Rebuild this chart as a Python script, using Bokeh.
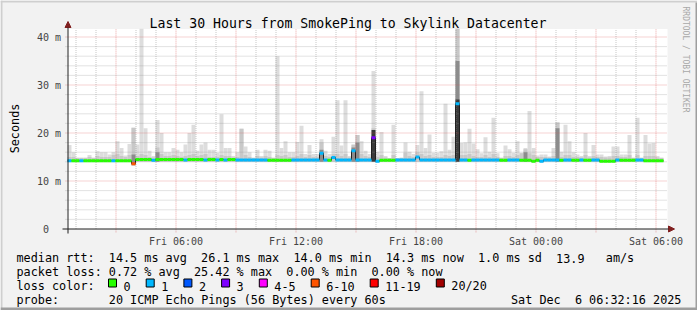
import datetime as dt
import math
from bokeh.plotting import figure
from bokeh.models import Label, BoxAnnotation, Arrow, NormalHead, Range1d
from bokeh.embed import file_html
from bokeh.resources import INLINE

# ---------------- data ----------------
title_text = "Last 30 Hours from SmokePing to Skylink Datacenter"
t_start = dt.datetime(2025, 12, 5, 0, 34, 30)
t_end = dt.datetime(2025, 12, 6, 6, 34, 30)
bin_minutes = 12

# max ping per 12-minute bin (ms)
rtt_max = [
    17.5, 16.0, 14.9, 14.9, 14.9, 15.4, 14.9, 16.2, 16.0, 16.0, 15.5, 16.0, 18.3, 16.9, 15.3, 17.7, 21.1, 17.6, 41.7, 21.0, 16.3, 15.2, 22.7, 20.0, 16.0,
    16.0, 16.9, 16.5, 16.0, 17.6, 20.0, 21.7, 16.3, 17.6, 18.0, 16.5, 16.5, 15.9, 23.9, 16.9, 16.9, 15.2, 16.0, 20.9, 17.2, 16.0, 14.9, 16.5, 15.2, 16.5,
    16.3, 14.9, 36.0, 16.9, 18.3, 16.0, 16.0, 18.1, 21.5, 15.6, 17.5, 15.6, 15.6, 18.7, 16.3, 15.6, 19.2, 26.8, 17.4, 26.8, 15.2, 17.5, 19.6, 18.3, 16.3,
    15.6, 32.9, 16.1, 20.2, 15.2, 14.8, 21.7, 14.8, 14.9, 18.0, 16.1, 15.6, 17.5, 28.7, 16.9, 19.7, 15.9, 15.9, 16.2, 26.1, 16.5, 19.2, 41.7, 17.9, 18.0,
    20.9, 17.8, 16.6, 15.8, 19.1, 16.1, 23.2, 15.8, 14.9, 17.4, 16.6, 15.9, 18.3, 15.9, 16.9, 24.6, 16.9, 15.3, 15.5, 15.5, 15.1, 16.9, 22.2, 16.1, 21.7,
    18.3, 16.0, 15.5, 15.2, 20.0, 15.2, 17.5, 15.5, 15.5, 15.1, 15.2, 17.2, 17.2, 15.5, 15.5, 19.6, 14.9, 23.2, 14.9, 19.6, 17.8, 17.9, 15.2, 14.9,
]
# min ping per bin (ms)
rtt_min = [
    14.0, 14.0, 14.0, 14.0, 14.0, 14.0, 14.0, 14.0, 14.0, 14.0, 14.0, 14.0, 14.0, 14.0, 14.0, 14.0, 13.3, 14.0, 14.0, 14.0, 14.0, 14.0, 14.0, 14.0, 14.0,
    14.0, 14.0, 14.0, 14.0, 14.0, 14.0, 14.0, 14.0, 14.0, 14.0, 14.0, 14.0, 14.0, 14.0, 14.0, 14.0, 14.0, 14.0, 14.0, 14.0, 14.0, 14.0, 14.0, 14.0, 14.0,
    14.0, 14.0, 14.0, 14.0, 14.0, 14.0, 14.0, 14.0, 14.0, 14.0, 14.0, 14.0, 14.0, 14.0, 14.0, 14.0, 14.0, 14.0, 14.0, 14.0, 14.0, 14.0, 14.0, 14.0, 14.0,
    14.0, 14.0, 13.9, 14.0, 14.0, 14.0, 14.0, 14.0, 14.0, 14.0, 14.0, 14.0, 14.0, 14.0, 14.0, 14.0, 14.0, 14.0, 14.0, 14.0, 14.0, 14.0, 14.0, 14.0, 14.0,
    14.0, 14.0, 14.0, 14.0, 14.0, 14.0, 14.0, 14.0, 14.0, 14.0, 14.0, 14.0, 14.0, 14.0, 14.0, 14.0, 13.9, 14.0, 13.9, 14.0, 14.0, 14.0, 14.0, 14.0, 14.0,
    14.0, 14.0, 14.0, 14.0, 14.0, 14.0, 14.0, 14.0, 13.9, 13.9, 13.9, 13.9, 14.0, 14.0, 14.0, 14.0, 14.0, 14.0, 14.0, 14.0, 14.0, 14.0, 14.0, 14.0,
]
# upper edge of the denser smoke near the median (ms)
rtt_dense = [
    15.0, 15.0, 14.8, 14.8, 14.8, 15.0, 14.8, 15.2, 15.0, 15.0, 15.0, 15.4, 15.6, 15.2, 15.0, 15.4, 21.1, 15.2, 15.6, 15.4, 15.0, 14.9, 17.0, 15.6, 15.2,
    15.2, 15.4, 15.2, 15.0, 15.2, 15.4, 15.6, 15.2, 15.4, 15.6, 15.0, 15.0, 15.0, 15.4, 15.2, 15.2, 14.9, 15.0, 20.9, 15.4, 15.0, 14.8, 15.2, 14.9, 15.2,
    15.0, 14.8, 15.4, 15.2, 15.4, 15.0, 15.0, 15.2, 15.6, 15.0, 15.4, 15.0, 15.0, 18.0, 15.2, 15.0, 15.6, 15.6, 15.2, 15.6, 14.9, 17.6, 19.6, 15.6, 15.2,
    15.0, 21.0, 15.0, 15.4, 14.9, 14.8, 15.4, 14.8, 14.8, 15.9, 15.2, 15.0, 16.0, 15.6, 15.2, 15.4, 15.0, 15.0, 15.0, 15.4, 15.2, 15.4, 41.7, 15.4, 15.4,
    15.6, 15.2, 15.0, 15.0, 15.4, 15.0, 15.6, 15.0, 14.8, 15.2, 15.2, 15.0, 15.4, 15.8, 16.6, 15.8, 15.4, 15.0, 15.0, 15.0, 14.9, 15.2, 22.2, 15.0, 15.4,
    15.4, 15.0, 15.0, 14.9, 15.4, 14.9, 15.2, 15.0, 15.0, 14.9, 14.9, 15.2, 15.2, 15.0, 15.0, 15.4, 14.8, 15.4, 14.8, 15.2, 15.2, 15.2, 14.9, 14.8,
]
# bins with a dark core of pings (bin index -> top of dark core, ms)
dark_core = {16: 15.5, 22: 16.0, 63: 16.5, 71: 17.0, 72: 18.0, 97: 35.0, 114: 16.0, 122: 21.0}
black_core = {76: 20.6, 97: 27.0}
# median rtt per bin (ms)
rtt_median = [
    14.2, 14.2, 14.2, 14.2, 14.2, 14.2, 14.2, 14.2, 14.2, 14.2, 14.2, 14.2, 14.2, 14.2, 14.2, 14.2, 13.6, 14.5, 14.5, 14.5, 14.5, 14.3, 14.5, 14.5, 14.5,
    14.5, 14.5, 14.5, 14.5, 14.4, 14.5, 14.5, 14.5, 14.5, 14.4, 14.5, 14.5, 14.4, 14.5, 14.4, 14.5, 14.5, 14.4, 14.4, 14.4, 14.4, 14.4, 14.4, 14.4, 14.4,
    14.3, 14.3, 14.3, 14.3, 14.3, 14.3, 14.4, 14.4, 14.4, 14.4, 14.4, 14.4, 14.4, 15.8, 14.4, 14.3, 14.9, 14.4, 14.4, 14.4, 14.4, 16.3, 14.4, 14.4, 14.4,
    14.4, 19.0, 14.1, 14.3, 14.3, 14.3, 14.3, 14.4, 14.4, 14.4, 14.4, 14.4, 15.0, 14.4, 14.4, 14.4, 14.4, 14.4, 14.4, 14.4, 14.4, 14.4, 26.1, 14.4, 14.4,
    14.3, 14.4, 14.4, 14.4, 14.4, 14.4, 14.4, 14.4, 14.3, 14.3, 14.4, 14.4, 14.4, 14.3, 14.3, 14.3, 14.1, 14.3, 14.1, 14.4, 14.4, 14.4, 14.4, 14.3, 14.4,
    14.4, 14.3, 14.3, 14.4, 14.3, 14.3, 14.4, 14.4, 14.1, 14.1, 14.1, 14.1, 14.4, 14.3, 14.3, 14.3, 14.3, 14.4, 14.4, 14.2, 14.2, 14.2, 14.2, 14.2,
]
# loss class per bin: 0 -> "0", 1 -> "1", 2 -> "2", 3 -> "3", 4 -> "4-5", 5 -> "6-10", 6 -> "11-19", 7 -> "20/20"
loss_class = [
    1, 0, 0, 1, 0, 0, 0, 0, 0, 0, 0, 1, 0, 0, 0, 0, 5, 0, 0, 0, 0, 1, 0, 0, 0,
    0, 0, 0, 0, 1, 0, 0, 0, 0, 1, 0, 0, 1, 0, 1, 0, 0, 1, 1, 1, 1, 1, 1, 1, 1,
    0, 0, 0, 0, 0, 0, 1, 1, 1, 1, 1, 1, 1, 1, 1, 0, 1, 1, 1, 1, 1, 1, 1, 1, 1,
    1, 3, 1, 0, 0, 0, 0, 1, 1, 1, 1, 1, 1, 1, 1, 1, 1, 1, 1, 1, 1, 1, 1, 1, 1,
    0, 1, 1, 1, 1, 1, 1, 1, 0, 0, 1, 1, 1, 0, 0, 0, 0, 0, 1, 1, 1, 1, 1, 0, 1,
    1, 0, 0, 1, 0, 0, 1, 1, 0, 0, 0, 0, 1, 0, 0, 0, 0, 1, 1, 0, 0, 0, 0, 0,
]
loss_labels = ["0", "1", "2", "3", "4-5", "6-10", "11-19", "20/20"]
loss_colors = ["#26ff00", "#00b8ff", "#0059ff", "#7e00ff", "#ff00ff", "#ff5500", "#ff0000", "#a10000"]

y_major = [0, 10, 20, 30, 40]
y_labels = ["0\u00a0\u00a0", "10 m", "20 m", "30 m", "40 m"]
y_minor = [2, 4, 6, 8, 12, 14, 16, 18, 22, 24, 26, 28, 32, 34, 36, 38]
y_top = 41.667
x_label_hours = [6, 12, 18, 24, 30]          # hours after Fri 00:00 with a tick label
x_major_hours = [3, 6, 9, 12, 15, 18, 21, 24, 27, 30]

stats_rtt = ["14.5 ms avg", "26.1 ms max", "14.0 ms min", "14.3 ms now", "1.0 ms sd", "13.9", "am/s"]
stats_loss = ["0.72 % avg", "25.42 % max", "0.00 % min", "0.00 % now"]
probe_text = "20 ICMP Echo Pings (56 Bytes) every 60s"
stamp_date = ["Sat Dec", "6 06:32:16 2025"]

# ---------------- layout constants (pixels) ----------------
W, H = 697, 310
FL, FB = 67, 228.5          # plot-area left edge / zero line on the canvas
PX_PER_MS = 4.8             # vertical pixels per millisecond
MIN_PER_PX = 3.0            # minutes of time per horizontal pixel
FONT = "DejaVu Sans Mono"

n = len(rtt_max)
step = dt.timedelta(minutes=bin_minutes)
left = [t_start + i * step for i in range(n)]
right = [t_start + (i + 1) * step for i in range(n)]

x_lo = t_start - dt.timedelta(minutes=FL * MIN_PER_PX)
x_hi = t_start + dt.timedelta(minutes=(W - FL) * MIN_PER_PX)
y_lo = -(H - FB) / PX_PER_MS
y_hi = FB / PX_PER_MS

p = figure(width=W, height=H, x_axis_type="datetime", x_axis_location=None, y_axis_location=None,
           x_range=Range1d(x_lo, x_hi), y_range=Range1d(y_lo, y_hi),
           output_backend="svg", toolbar_location=None, min_border=0,
           background_fill_color="#f2f2f2", border_fill_color="#f2f2f2", outline_line_color=None)
p.title.visible = False
p.grid.visible = False

# white canvas of the graph
p.add_layout(BoxAnnotation(left=t_start, right=t_end, bottom=0, top=y_top, fill_color="#ffffff",
                           fill_alpha=1, line_color=None, level="underlay"))

# smoke
p.quad(left=left, right=right, bottom=rtt_min, top=rtt_max, fill_color="#dddddd", line_color=None)
p.quad(left=left, right=right, bottom=rtt_min, top=rtt_dense, fill_color="#c8c8c8", line_color=None)
dk_idx = sorted(dark_core)
p.quad(left=[left[i] for i in dk_idx], right=[right[i] for i in dk_idx],
       bottom=[rtt_min[i] for i in dk_idx], top=[dark_core[i] for i in dk_idx],
       fill_color="#8c8c8c", line_color=None)
bk_idx = sorted(black_core)
p.quad(left=[left[i] for i in bk_idx], right=[right[i] for i in bk_idx],
       bottom=[rtt_min[i] for i in bk_idx], top=[black_core[i] for i in bk_idx],
       fill_color="#3a3a3a", line_color=None)

# grid (drawn over the smoke, rrdtool style dotted lines)
day0 = dt.datetime(2025, 12, 5)
hour = dt.timedelta(hours=1)
minor_t = [day0 + h * hour for h in range(1, 31) if h % 3 and t_start < day0 + h * hour < t_end]
major_t = [day0 + h * hour for h in x_major_hours if t_start < day0 + h * hour < t_end]
tick_ext = 0.7  # ms below the zero line
p.segment(x0=minor_t, x1=minor_t, y0=[0] * len(minor_t), y1=[y_top] * len(minor_t),
          line_color="#8f8f8f", line_alpha=0.5, line_width=1, line_dash="1 1")
p.segment(x0=major_t, x1=major_t, y0=[-tick_ext] * len(major_t), y1=[y_top] * len(major_t),
          line_color="#de4f4f", line_alpha=0.5, line_width=1, line_dash="1 1")
grid_x0 = t_start - dt.timedelta(minutes=6)
p.segment(x0=[grid_x0] * len(y_minor), x1=[t_end] * len(y_minor), y0=y_minor, y1=y_minor,
          line_color="#8f8f8f", line_alpha=0.5, line_width=1, line_dash="1 1")
p.segment(x0=[grid_x0] * 4, x1=[t_end] * 4, y0=y_major[1:], y1=y_major[1:],
          line_color="#de4f4f", line_alpha=0.5, line_width=1, line_dash="1 1")

# median: thin dark step, then loss-coloured segments
p.step(x=left + [right[-1]], y=rtt_median + [rtt_median[-1]], mode="after", line_color="#202020", line_width=1)
p.segment(x0=left, x1=right, y0=rtt_median, y1=rtt_median,
          line_color=[loss_colors[c] for c in loss_class], line_width=3, line_cap="butt")

# axis lines with arrow heads (screen px from bottom-left of canvas)
p.add_layout(Arrow(x_start=FL + 0.5, y_start=H - 233, x_end=FL + 0.5, y_end=H - 21,
                   start_units="screen", end_units="screen", line_color="#1f1f1f", line_width=1,
                   end=NormalHead(size=6, fill_color="#801f1f", line_color="#801f1f")))
p.add_layout(Arrow(x_start=FL - 5, y_start=H - FB, x_end=674, y_end=H - FB,
                   start_units="screen", end_units="screen", line_color="#1f1f1f", line_width=1,
                   end=NormalHead(size=6, fill_color="#801f1f", line_color="#801f1f")))


def add_text(cx, cy, txt, size, align="left", baseline="alphabetic", angle=0.0, color="#000000"):
    p.add_layout(Label(x=cx, y=H - cy, x_units="screen", y_units="screen", text=txt,
                       text_font=FONT, text_font_size=size, text_align=align, text_baseline=baseline,
                       angle=angle, text_color=color))


def add_box(x0, y0, x1, y1, color, line=None):
    p.add_layout(BoxAnnotation(left=x0, right=x1, top=H - y0, bottom=H - y1,
                               left_units="screen", right_units="screen", top_units="screen", bottom_units="screen",
                               fill_color=color, fill_alpha=1.0, line_color=line, line_width=1, line_alpha=1.0,
                               level="overlay"))


# tick labels placed through the data scales
for v, s in zip(y_major, y_labels):
    p.add_layout(Label(x=FL - 6.5, y=v, x_units="screen", y_units="data", text=s, text_font=FONT,
                       text_font_size="10px", text_align="right", text_baseline="middle"))
for h in x_label_hours:
    t = day0 + h * hour
    ms = (t - dt.datetime(1970, 1, 1)).total_seconds() * 1000.0
    p.add_layout(Label(x=ms, y=H - 241, x_units="data", y_units="screen", text=t.strftime("%a %H:%M"),
                       text_font=FONT, text_font_size="10px", text_align="center", text_baseline="alphabetic"))

# title, unit label, watermark
add_text(347.5, 23.3, title_text, "13.2px", align="center")
add_text(14.5, 128, "Seconds", "11.8px", align="center", baseline="alphabetic", angle=math.pi / 2)
add_text(685, 59, "RRDTOOL / TOBI OETIKER", "8px", align="center", baseline="alphabetic", angle=-math.pi / 2,
         color="#a8a8a8")

# legend
CW = 7.1
X0 = 16
rows = [257.5, 271.5, 285.5, 299.5]
add_text(X0, rows[0], "median rtt:", "11.8px")
for tok, col in zip(stats_rtt, [13, 26, 39, 52, 65, 76, 83]):
    add_text(X0 + col * CW, rows[0], tok, "11.8px")
add_text(X0, rows[1], "packet loss:", "11.8px")
for tok, col in zip(stats_loss, [13, 25, 38, 50]):
    add_text(X0 + col * CW, rows[1], tok, "11.8px")
add_text(X0, rows[2], "loss color:", "11.8px")
bx = 108.0
for lab, colr in zip(loss_labels, loss_colors):
    add_box(bx, 278.5, bx + 8, 286.5, colr, line="#000000")
    add_text(bx + 15, rows[2], lab, "11.8px")
    bx = bx + 15 + len(lab) * CW + 15.6
add_text(X0, rows[3], "probe:", "11.8px")
add_text(X0 + 13 * CW, rows[3], probe_text, "11.8px")
add_text(510.5, rows[3], stamp_date[0], "11.8px")
add_text(510.5 + 9 * CW, rows[3], stamp_date[1], "11.8px")

# 3-D frame shading of the canvas
add_box(0, 0, W, 2, "#cfcfcf")
add_box(0, 0, 2, H, "#cfcfcf")
add_box(0, H - 3, W, H, "#9e9e9e")
add_box(W - 2, 2, W, H, "#9e9e9e")

open("out.html", "w").write(file_html(p, INLINE))
